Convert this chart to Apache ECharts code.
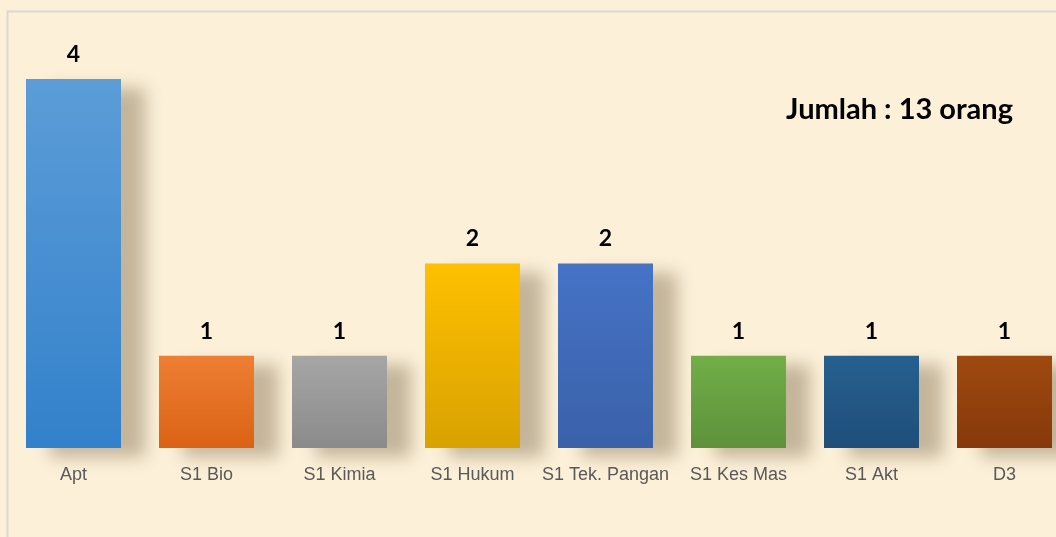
<!DOCTYPE html>
<html>
<head>
<meta charset="utf-8">
<script src="https://cdn.jsdelivr.net/npm/echarts@6/dist/echarts.min.js"></script>
<style>
  html, body { margin: 0; padding: 0; background: #fcf0d8; }
  #main { width: 1056px; height: 537px; }
</style>
</head>
<body>
<div id="main"></div>
<script>
const categories = ['Apt', 'S1 Bio', 'S1 Kimia', 'S1 Hukum', 'S1 Tek. Pangan', 'S1 Kes Mas', 'S1 Akt', 'D3'];
const values = [4, 1, 1, 2, 2, 1, 1, 1];
const totalText = 'Jumlah : 13 orang';

// top / bottom colour of each bar's gradient
const barColors = [
    ['#5c9dd8', '#3381cb'],
    ['#ee7f34', '#da6214'],
    ['#a6a6a6', '#8b8b8b'],
    ['#ffc000', '#d8a200'],
    ['#4673c6', '#3a61a9'],
    ['#71ae48', '#5e923b'],
    ['#26608f', '#1f4e7a'],
    ['#9f490f', '#86390b']
];

const barData = values.map((v, i) => ({
    value: v,
    itemStyle: {
        color: new echarts.graphic.LinearGradient(0, 0, 0, 1, [
            {offset: 0, color: barColors[i][0]},
            {offset: 1, color: barColors[i][1]}
        ])
    }
}));

const myChart = echarts.init(document.getElementById('main'));
myChart.setOption({
    backgroundColor: '#fcf0d8',
    animation: false,
    title: {
        text: totalText,
        right: 38,
        top: 90,
        textStyle: {
            fontFamily: 'Lato',
            fontWeight: 'bold',
            fontSize: 29,
            color: '#000'
        }
    },
    graphic: [
        {
            type: 'polyline',
            shape: {points: [[7.5, 540], [7.5, 11.5], [1060, 11.5]]},
            style: {stroke: '#dcd8d0', lineWidth: 2, fill: null},
            silent: true
        }
    ],
    grid: {
        left: 7,
        right: -15,
        top: 79,
        bottom: 89,
        outerBoundsMode: 'none'
    },
    xAxis: {
        type: 'category',
        data: categories,
        axisLine: {show: false},
        axisTick: {show: false},
        axisLabel: {
            interval: 0,
            margin: 18,
            fontFamily: 'Liberation Sans',
            fontSize: 18,
            color: '#595959'
        }
    },
    yAxis: {
        type: 'value',
        min: 0,
        max: 4,
        show: false,
        splitLine: {show: false}
    },
    series: [
        {
            type: 'bar',
            data: barData,
            barWidth: 95,
            itemStyle: {
                shadowColor: 'rgba(90, 70, 40, 0.35)',
                shadowBlur: 16,
                shadowOffsetX: 24,
                shadowOffsetY: 9
            },
            label: {
                show: true,
                position: 'top',
                distance: 13,
                fontFamily: 'Lato',
                fontWeight: 'bold',
                fontSize: 23,
                color: '#000'
            }
        }
    ]
});
</script>
</body>
</html>
